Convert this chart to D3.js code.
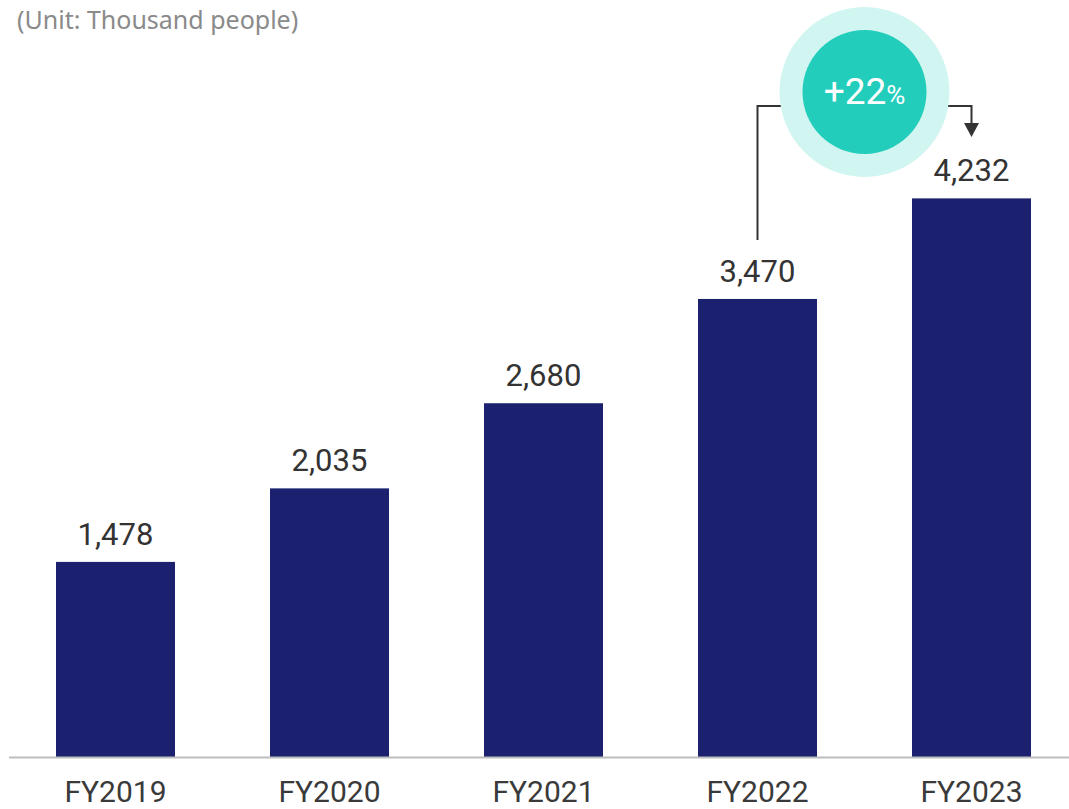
<!DOCTYPE html>
<html>
<head>
<meta charset="utf-8">
<script src="https://cdn.jsdelivr.net/npm/d3@7"></script>
<style>
  body { margin: 0; background: #fff; }
  svg { display: block; font-family: Roboto, "Noto Sans", sans-serif; }
</style>
</head>
<body>
<svg id="chart"></svg>
<script>
const years = ["FY2019", "FY2020", "FY2021", "FY2022", "FY2023"];
const values = [1478, 2035, 2680, 3470, 4232];
const unitLabel = "(Unit: Thousand people)";
const growthFrom = "FY2022", growthTo = "FY2023";

const width = 1069, height = 809;
const baseY = 757;

const svg = d3.select("#chart")
    .attr("width", width)
    .attr("height", height);

const data = years.map((y, i) => ({ year: y, value: values[i] }));

const x = d3.scaleBand()
    .domain(years)
    .range([8.5, 1078.5])
    .paddingInner(0.444)
    .paddingOuter(0.222);

const y = d3.scaleLinear()
    .domain([0, 5000])
    .range([baseY, baseY - 660]);

const fmt = d3.format(",d");

// unit note
svg.append("text")
    .attr("x", 17)
    .attr("y", 29)
    .attr("fill", "#8a8a8a")
    .style("font-family", "'Noto Sans', sans-serif")
    .style("font-size", "25px")
    .text(unitLabel);

// bars
svg.selectAll(".bar")
    .data(data)
    .enter()
    .append("rect")
    .attr("class", "bar")
    .attr("x", d => x(d.year))
    .attr("y", d => y(d.value))
    .attr("width", x.bandwidth())
    .attr("height", d => baseY - y(d.value))
    .attr("fill", "#1b216e");

// baseline
svg.append("line")
    .attr("x1", 9).attr("x2", width)
    .attr("y1", baseY + 0.5).attr("y2", baseY + 0.5)
    .attr("stroke", "#bdbdbd")
    .attr("stroke-width", 2);

// value labels
svg.selectAll(".label")
    .data(data)
    .enter()
    .append("text")
    .attr("class", "label")
    .attr("x", d => x(d.year) + x.bandwidth() / 2)
    .attr("y", d => y(d.value) - 17)
    .attr("text-anchor", "middle")
    .attr("fill", "#333")
    .style("font-size", "31px")
    .text(d => fmt(d.value));

// category labels
svg.selectAll(".xlab")
    .data(data)
    .enter()
    .append("text")
    .attr("class", "xlab")
    .attr("x", d => x(d.year) + x.bandwidth() / 2)
    .attr("y", 802)
    .attr("text-anchor", "middle")
    .attr("fill", "#3a3a3a")
    .style("font-size", "30px")
    .text(d => d.year);

// growth bracket
const v0 = values[years.indexOf(growthFrom)], v1 = values[years.indexOf(growthTo)];
const cx0 = x(growthFrom) + x.bandwidth() / 2;
const cx1 = x(growthTo) + x.bandwidth() / 2;
const topY = 106;

svg.append("path")
    .attr("d", `M${cx0},${y(v0) - 59} V${topY} H${cx1} V${125}`)
    .attr("fill", "none")
    .attr("stroke", "#333")
    .attr("stroke-width", 2);

svg.append("path")
    .attr("d", `M${cx1 - 7.5},${123} L${cx1 + 7.5},${123} L${cx1},${137} Z`)
    .attr("fill", "#333");

const bx = (cx0 + cx1) / 2, by = 92;
svg.append("circle")
    .attr("cx", bx).attr("cy", by).attr("r", 85)
    .attr("fill", "#d1f5f1");
svg.append("circle")
    .attr("cx", bx).attr("cy", by).attr("r", 62)
    .attr("fill", "#22cdbb");

const pct = Math.round((v1 / v0 - 1) * 100);
const badge = svg.append("text")
    .attr("x", bx)
    .attr("y", 104)
    .attr("text-anchor", "middle")
    .attr("fill", "#fff");
badge.append("tspan").style("font-size", "37px").text("+" + pct);
badge.append("tspan").style("font-size", "26px").text("%");
</script>
</body>
</html>
